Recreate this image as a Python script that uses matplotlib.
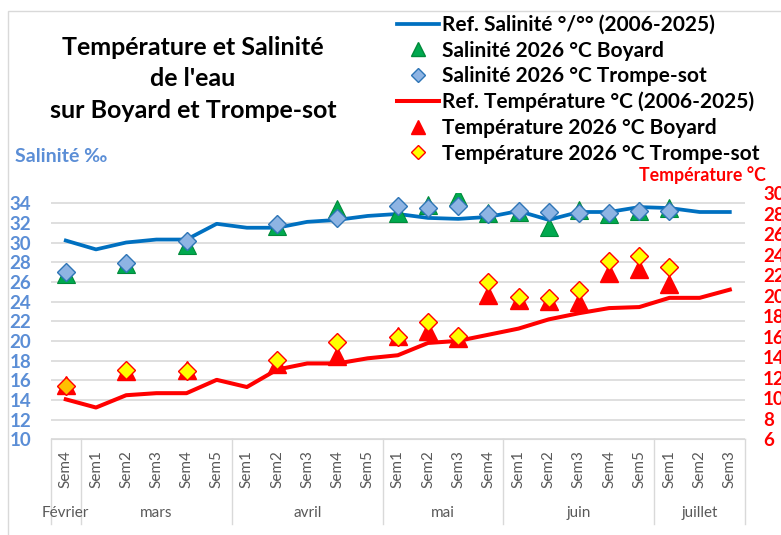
import numpy as np
import matplotlib.pyplot as plt
from matplotlib.lines import Line2D
from matplotlib.patches import Rectangle

plt.rcParams['font.family'] = ['Lato', 'DejaVu Sans']

nan = np.nan

# Catégories (semaines) et mois
semaines = ['Sem4',
            'Sem1', 'Sem2', 'Sem3', 'Sem4', 'Sem5',
            'Sem1', 'Sem2', 'Sem3', 'Sem4', 'Sem5',
            'Sem1', 'Sem2', 'Sem3', 'Sem4',
            'Sem1', 'Sem2', 'Sem3', 'Sem4', 'Sem5',
            'Sem1', 'Sem2', 'Sem3']
mois = ['Février', 'mars', 'avril', 'mai', 'juin', 'juillet']
nb_sem_mois = [1, 5, 5, 4, 5, 3]

# Salinité
sal_ref = [30.2, 29.3, 30.0, 30.3, 30.3, 31.9, 31.5, 31.5, 32.1, 32.3, 32.7,
           32.9, 32.5, 32.4, 32.6, 33.2, 32.3, 33.1, 33.1, 33.6, 33.5, 33.1, 33.1]
sal_boyard = [26.8, nan, 27.8, nan, 29.7, nan, nan, 31.7, nan, 33.4, nan,
              33.0, 33.8, 34.6, 33.0, 33.1, 31.6, 33.3, 32.9, 33.2, 33.5, nan, nan]
sal_trompe = [27.0, nan, 27.9, nan, 30.2, nan, nan, 31.9, nan, 32.5, nan,
              33.7, 33.5, 33.7, 32.9, 33.2, 33.1, 33.0, 33.0, 33.2, 33.2, nan, nan]

# Température
temp_ref = [9.9, 9.1, 10.3, 10.5, 10.5, 11.8, 11.1, 12.8, 13.4, 13.4, 13.9,
            14.2, 15.4, 15.6, 16.2, 16.8, 17.7, 18.3, 18.8, 18.9, 19.8, 19.8, 20.6]
temp_boyard = [11.3, nan, 12.7, nan, 12.8, nan, nan, 13.3, nan, 14.1, nan,
               16.1, 16.6, 15.9, 20.1, 19.6, 19.5, 19.4, 22.2, 22.6, 21.2, nan, nan]
temp_trompe = [11.2, nan, 12.8, nan, 12.7, nan, nan, 13.7, nan, 15.5, nan,
               16.0, 17.4, 16.1, 21.3, 19.9, 19.8, 20.6, 23.4, 23.9, 22.8, nan, nan]

x = np.arange(len(semaines))

bleu = '#0070C0'
bleu_txt = '#5B8ED6'
rouge = '#FF0000'
gris = '#D9D9D9'

fig = plt.figure(figsize=(7.81, 5.35), dpi=100)
ax1 = fig.add_axes([50.7 / 781, 1 - 439.3 / 535, 694.2 / 781, 246 / 535])
ax2 = ax1.twinx()

# cadre du graphique
fig.patches.append(Rectangle((8 / 781, -0.1), 1.2, 1 - 10.7 / 535 + 0.1,
                             transform=fig.transFigure, fill=False,
                             edgecolor=gris, linewidth=1))

# Salinité
ax1.plot(x, sal_ref, color=bleu, linewidth=2.7, zorder=3)
ax1.plot(x, sal_boyard, linestyle='none', marker='^', markersize=12.5,
         markerfacecolor='#00A94F', markeredgecolor='#008A3A',
         markeredgewidth=0.8, zorder=4)
ax1.plot(x, sal_trompe, linestyle='none', marker='D', markersize=8.8,
         markerfacecolor='#8EB4E3', markeredgecolor='#2E75B6',
         markeredgewidth=1.0, zorder=5)

# Température
ax2.plot(x, temp_ref, color=rouge, linewidth=2.9, zorder=3)
ax2.plot(x, temp_boyard, linestyle='none', marker='^', markersize=12.5,
         markerfacecolor=rouge, markeredgecolor=rouge, zorder=4)
couleurs_tr = ['#FFC000'] + ['#FFFF00'] * (len(x) - 1)
for xi, yi, c in zip(x, temp_trompe, couleurs_tr):
    if not np.isnan(yi):
        ax2.plot(xi, yi, linestyle='none', marker='D', markersize=8.8,
                 markerfacecolor=c, markeredgecolor=rouge,
                 markeredgewidth=1.0, zorder=5)

ax1.set_xlim(-0.5, len(x) - 0.5)
ax1.set_ylim(10, 35)
ax2.set_ylim(6, 30)
ax1.set_yticks(np.arange(10, 35, 2))
ax2.set_yticks(np.arange(6, 31, 2))
ax1.grid(axis='y', color=gris, linewidth=1.2)
ax1.set_axisbelow(True)

for ax in (ax1, ax2):
    for s in ax.spines.values():
        s.set_visible(False)
ax1.spines['bottom'].set_visible(True)
ax1.spines['bottom'].set_color(gris)

ax1.tick_params(axis='y', length=0, pad=14, labelsize=13.5, labelcolor=bleu_txt)
for t in ax1.get_yticklabels():
    t.set_fontweight('bold')
ax2.tick_params(axis='y', length=0, pad=13, labelsize=13.5, labelcolor=rouge)
for t in ax2.get_yticklabels():
    t.set_fontweight('bold')

ax1.set_xticks(x)
ax1.set_xticklabels(semaines, rotation=90, fontsize=11, color='#595959')
ax1.tick_params(axis='x', length=0, pad=8)

# mois et séparateurs
trans = ax1.get_xaxis_transform()
debut = -0.5
for m, n in zip(mois, nb_sem_mois):
    ax1.text(debut + n / 2, -0.30, m, transform=trans, ha='center',
             va='center', fontsize=11, color='#595959')
    debut += n
bornes = np.concatenate([[0], np.cumsum(nb_sem_mois)]) - 0.5
for b in bornes:
    ax1.add_line(Line2D([b, b], [0, -0.345], transform=trans, color=gris,
                        linewidth=1, clip_on=False))

# titre et étiquettes d'axes
fig.text(193 / 781, 1 - 79 / 535,
         "Température et Salinité\nde l'eau\nsur Boyard et Trompe-sot",
         ha='center', va='center', fontsize=18, fontweight='bold',
         linespacing=1.45)
fig.text(15 / 781, 1 - 157 / 535, 'Salinité ‰', ha='left', va='center',
         fontsize=14, fontweight='bold', color=bleu_txt)
fig.text(766 / 781, 1 - 175.5 / 535, 'Température °C', ha='right',
         va='center', fontsize=12.8, fontweight='bold', color=rouge)

# légende
handles = [
    Line2D([], [], color=bleu, linewidth=2.7),
    Line2D([], [], linestyle='none', marker='^', markersize=10,
           markerfacecolor='#00A94F', markeredgecolor='#008A3A'),
    Line2D([], [], linestyle='none', marker='D', markersize=7,
           markerfacecolor='#8EB4E3', markeredgecolor='#2E75B6'),
    Line2D([], [], color=rouge, linewidth=2.9),
    Line2D([], [], linestyle='none', marker='^', markersize=10,
           markerfacecolor=rouge, markeredgecolor=rouge),
    Line2D([], [], linestyle='none', marker='D', markersize=7,
           markerfacecolor='#FFFF00', markeredgecolor=rouge),
]
labels = ['Ref. Salinité °/°° (2006-2025)',
          'Salinité 2026 °C Boyard',
          'Salinité 2026 °C Trompe-sot',
          'Ref. Température °C (2006-2025)',
          'Température 2026 °C Boyard',
          'Température 2026 °C Trompe-sot']
leg = fig.legend(handles, labels, loc='upper left',
                 bbox_to_anchor=(397 / 781, 1 - 15 / 535),
                 frameon=False, borderpad=0, borderaxespad=0,
                 handlelength=2.0, handletextpad=0.17, labelspacing=0.27,
                 prop={'size': 15, 'weight': 'bold'})

fig.savefig('out.png', dpi=100)
